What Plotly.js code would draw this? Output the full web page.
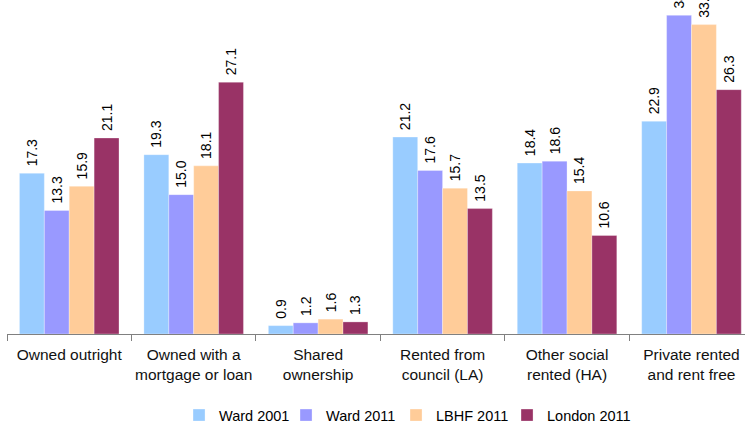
<!DOCTYPE html>
<html>
<head>
<meta charset="utf-8">
<script src="https://cdn.plot.ly/plotly-3.0.1.min.js"></script>
<style>
    html, body { margin: 0; padding: 0; background: #fff; }
    #chart { width: 745px; height: 425px; }
</style>
</head>
<body>
<div id="chart"></div>
<script>
// Tenure categories (x-axis)
const categories = [
    'Owned outright',
    'Owned with a<br>mortgage or loan',
    'Shared<br>ownership',
    'Rented from<br>council (LA)',
    'Other social<br>rented (HA)',
    'Private rented<br>and rent free'
];

// Series values (%)
const ward2001 = [17.3, 19.3, 0.9, 21.2, 18.4, 22.9];
const ward2011 = [13.3, 15.0, 1.2, 17.6, 18.6, 34.3];
const lbhf2011 = [15.9, 18.1, 1.6, 15.7, 15.4, 33.3];
const london2011 = [21.1, 27.1, 1.3, 13.5, 10.6, 26.3];

const seriesNames = ['Ward 2001', 'Ward 2011', 'LBHF 2011', 'London 2011'];
const seriesColors = ['#99CCFF', '#9999FF', '#FFCC99', '#993366'];
const legendWidths = [62, 65, 66, 80];

// Build one bar trace per series
function makeTrace(values, i) {
    return {
        type: 'bar',
        x: categories,
        y: values,
        name: seriesNames[i],
        legendwidth: legendWidths[i],
        marker: {
            color: seriesColors[i],
            line: { color: 'rgba(255,255,255,0.6)', width: 0.5 }
        },
        // nbsp in front keeps a small gap between bar top and rotated label
        text: values.map(v => '\u00A0' + v.toFixed(1)),
        textposition: 'outside',
        textangle: -90,
        constraintext: 'none',
        cliponaxis: false,
        textfont: { family: 'Liberation Sans, Arial, sans-serif', size: 14, color: '#000' },
        hoverinfo: 'x+y+name'
    };
}

const data = [ward2001, ward2011, lbhf2011, london2011].map(makeTrace);

const layout = {
    width: 745,
    height: 425,
    margin: { l: 7, r: 0, t: 0, b: 91, pad: 0, autoexpand: false },
    paper_bgcolor: '#fff',
    plot_bgcolor: '#fff',
    barmode: 'group',
    bargap: 0.2,
    bargroupgap: 0,
    font: { family: 'Liberation Sans, Arial, sans-serif', size: 15.5, color: '#000' },
    xaxis: {
        type: 'category',
        range: [-0.5, 5.43],
        automargin: false,
        tickangle: 0,
        showline: true,
        linecolor: '#808080',
        linewidth: 1,
        ticks: 'outside',
        tickson: 'boundaries',
        ticklen: 6,
        tickcolor: '#808080',
        ticklabelstandoff: 6,
        tickfont: { size: 15.5, color: '#111' },
        showgrid: false,
        fixedrange: true
    },
    yaxis: {
        range: [0, 35.95],
        visible: false,
        showgrid: false,
        zeroline: false,
        fixedrange: true
    },
    showlegend: true,
    legend: {
        orientation: 'h',
        x: 0.54,
        xanchor: 'center',
        y: -0.243,
        yanchor: 'middle',
        font: { size: 14.5, color: '#000' },
        itemclick: false
    }
};

Plotly.newPlot('chart', data, layout, { displayModeBar: false, staticPlot: true });
</script>
</body>
</html>
